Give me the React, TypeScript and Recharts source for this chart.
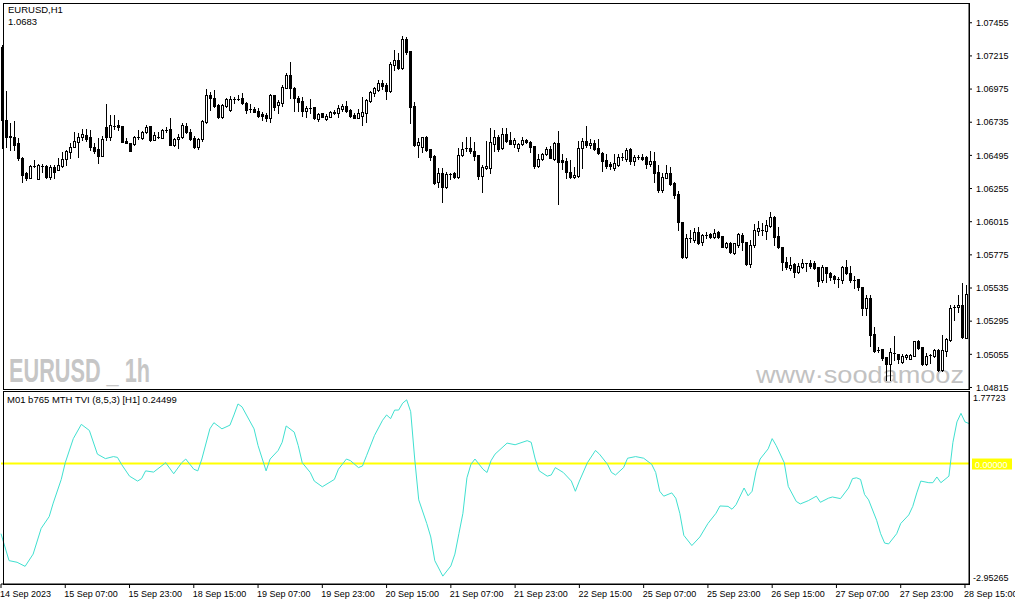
import { ComposedChart, Bar, Line, XAxis, YAxis } from 'recharts';

// hourly EURUSD candles, 14 Sep 15:00 .. 28 Sep 16:00: [open, high, low, close]
const CANDLES: [number, number, number, number][] = [
  [1.0728, 1.07294, 1.06549, 1.06751], [1.06751, 1.06961, 1.06556, 1.06628], [1.06628, 1.0673, 1.06534, 1.06635], [1.06628, 1.06744, 1.06534, 1.0657],
  [1.06585, 1.06621, 1.06462, 1.06476], [1.06476, 1.06483, 1.06302, 1.06353], [1.06368, 1.06375, 1.06317, 1.06331], [1.06331, 1.06425, 1.06331, 1.06418],
  [1.06418, 1.06462, 1.06411, 1.06418], [1.06324, 1.06433, 1.06324, 1.06425], [1.06418, 1.06433, 1.06375, 1.06418], [1.06418, 1.06425, 1.06331, 1.06339],
  [1.06339, 1.06425, 1.06324, 1.06411], [1.06411, 1.06425, 1.06331, 1.06375], [1.06389, 1.06476, 1.06389, 1.06425], [1.06418, 1.0652, 1.06411, 1.06469],
  [1.06469, 1.06534, 1.06425, 1.06527], [1.0652, 1.06585, 1.06476, 1.06556], [1.06556, 1.06664, 1.06556, 1.06599], [1.06592, 1.06657, 1.06483, 1.06628],
  [1.06628, 1.06686, 1.06606, 1.0665], [1.06643, 1.06686, 1.06599, 1.06614], [1.06628, 1.06679, 1.06534, 1.06556], [1.06556, 1.06585, 1.06512, 1.06527],
  [1.06541, 1.06621, 1.0644, 1.06491], [1.06491, 1.06635, 1.06491, 1.06614], [1.06701, 1.06867, 1.06606, 1.06628], [1.06628, 1.06787, 1.06606, 1.06715],
  [1.06708, 1.06787, 1.06686, 1.06708], [1.06715, 1.06751, 1.06679, 1.06701], [1.06708, 1.06708, 1.06592, 1.06592], [1.06599, 1.06621, 1.06585, 1.06585],
  [1.06585, 1.06585, 1.06527, 1.06527], [1.06577, 1.06635, 1.0657, 1.06628], [1.06628, 1.06679, 1.06614, 1.06628], [1.06621, 1.06672, 1.06614, 1.06664],
  [1.06664, 1.06715, 1.06657, 1.06701], [1.06708, 1.06708, 1.06599, 1.06606], [1.06606, 1.06664, 1.06606, 1.06643], [1.06628, 1.06664, 1.06621, 1.06628],
  [1.06621, 1.06686, 1.06621, 1.06679], [1.06679, 1.06701, 1.06664, 1.06679], [1.06686, 1.06766, 1.0657, 1.0657], [1.0657, 1.06621, 1.06563, 1.06614],
  [1.06614, 1.0665, 1.06549, 1.06628], [1.06628, 1.0673, 1.06621, 1.06715], [1.06708, 1.0673, 1.06657, 1.06664], [1.06664, 1.06686, 1.06606, 1.06614],
  [1.06621, 1.06635, 1.06549, 1.06556], [1.06556, 1.06621, 1.06541, 1.06614], [1.06614, 1.06751, 1.06599, 1.06744], [1.06737, 1.06976, 1.0673, 1.06932],
  [1.06932, 1.06954, 1.06824, 1.0691], [1.0691, 1.06968, 1.06845, 1.06853], [1.0686, 1.06867, 1.06766, 1.06773], [1.06773, 1.06867, 1.06766, 1.0686],
  [1.06853, 1.0691, 1.06845, 1.06903], [1.06824, 1.06925, 1.06816, 1.06903], [1.06903, 1.06918, 1.06874, 1.06903], [1.06903, 1.06932, 1.06896, 1.06903],
  [1.0691, 1.06947, 1.06867, 1.06874], [1.06874, 1.06882, 1.06802, 1.06824], [1.06831, 1.06867, 1.06809, 1.06831], [1.06831, 1.06845, 1.06809, 1.06809],
  [1.06816, 1.06838, 1.06773, 1.0678], [1.06795, 1.06809, 1.06751, 1.0678], [1.06787, 1.06802, 1.06744, 1.06766], [1.06766, 1.06939, 1.06737, 1.06932],
  [1.06932, 1.06932, 1.06824, 1.06845], [1.0686, 1.06896, 1.06802, 1.06882], [1.06874, 1.07005, 1.06853, 1.0699], [1.06983, 1.07091, 1.06983, 1.07077],
  [1.07077, 1.07171, 1.0691, 1.06983], [1.06983, 1.0699, 1.06816, 1.0691], [1.0691, 1.06925, 1.06816, 1.06882], [1.06889, 1.06918, 1.0678, 1.06816],
  [1.06816, 1.06853, 1.06773, 1.06838], [1.06838, 1.06903, 1.06802, 1.06838], [1.06845, 1.06845, 1.06758, 1.06766], [1.06758, 1.06802, 1.06744, 1.06795],
  [1.06802, 1.06802, 1.06773, 1.06773], [1.06758, 1.06795, 1.06751, 1.0678], [1.06773, 1.06816, 1.06773, 1.06809], [1.06802, 1.06824, 1.06795, 1.06809],
  [1.06802, 1.0686, 1.06773, 1.06838], [1.06831, 1.06867, 1.06816, 1.06853], [1.06853, 1.06889, 1.06809, 1.06816], [1.06824, 1.06831, 1.06773, 1.0678],
  [1.06787, 1.06802, 1.06766, 1.06766], [1.06766, 1.06831, 1.06766, 1.06802], [1.0678, 1.06918, 1.06715, 1.06809], [1.06802, 1.06903, 1.06737, 1.06896],
  [1.06889, 1.06961, 1.06882, 1.06954], [1.06947, 1.0699, 1.06925, 1.06983], [1.06968, 1.07041, 1.06961, 1.07019], [1.07019, 1.07041, 1.06976, 1.06997],
  [1.07005, 1.07019, 1.06903, 1.06961], [1.06961, 1.07171, 1.06954, 1.07157], [1.07149, 1.07258, 1.07113, 1.07186], [1.07186, 1.07236, 1.0712, 1.07128],
  [1.07128, 1.07359, 1.0712, 1.07338], [1.07338, 1.07352, 1.07229, 1.07243], [1.07251, 1.07251, 1.0673, 1.06845], [1.06853, 1.06882, 1.06563, 1.0657],
  [1.0657, 1.06621, 1.06483, 1.06592], [1.06556, 1.06628, 1.0652, 1.06628], [1.06628, 1.06635, 1.06527, 1.06534], [1.06541, 1.06541, 1.06462, 1.06483],
  [1.06491, 1.06498, 1.06288, 1.06295], [1.06302, 1.06404, 1.06266, 1.06368], [1.06368, 1.06404, 1.06158, 1.06266], [1.06266, 1.06375, 1.06259, 1.0636],
  [1.0636, 1.06368, 1.06324, 1.0636], [1.06368, 1.06375, 1.06331, 1.06339], [1.06339, 1.06549, 1.06331, 1.06498], [1.06498, 1.06592, 1.06491, 1.06541],
  [1.06549, 1.06628, 1.06527, 1.06549], [1.06549, 1.06628, 1.06512, 1.06527], [1.06527, 1.06592, 1.06462, 1.06491], [1.06498, 1.06498, 1.06324, 1.06346],
  [1.06346, 1.06425, 1.0623, 1.06411], [1.06404, 1.06599, 1.06396, 1.06418], [1.06404, 1.06693, 1.06368, 1.06592], [1.06577, 1.06679, 1.06527, 1.06628],
  [1.06628, 1.06643, 1.06527, 1.06541], [1.06549, 1.06693, 1.06541, 1.0665], [1.0665, 1.06693, 1.06592, 1.06599], [1.06606, 1.06664, 1.06577, 1.06577],
  [1.06577, 1.06621, 1.06556, 1.06606], [1.06549, 1.06585, 1.06527, 1.06577], [1.06577, 1.06628, 1.0657, 1.06606], [1.06606, 1.06614, 1.06585, 1.06592],
  [1.06592, 1.06599, 1.0652, 1.06556], [1.06563, 1.06563, 1.06404, 1.06418], [1.06418, 1.06505, 1.06411, 1.06469], [1.06469, 1.06512, 1.06462, 1.06505],
  [1.06505, 1.06556, 1.06498, 1.06541], [1.06541, 1.06563, 1.06476, 1.06476], [1.06469, 1.06592, 1.06462, 1.06585], [1.06585, 1.06672, 1.06143, 1.06447],
  [1.06462, 1.06505, 1.06396, 1.06447], [1.06454, 1.06476, 1.06331, 1.06375], [1.06375, 1.06462, 1.06331, 1.06339], [1.06339, 1.06411, 1.06331, 1.06353],
  [1.06346, 1.06599, 1.06339, 1.06549], [1.06549, 1.06621, 1.06404, 1.06599], [1.06599, 1.06708, 1.06556, 1.0657], [1.0657, 1.06614, 1.06549, 1.06585],
  [1.06585, 1.06606, 1.06534, 1.06541], [1.06549, 1.06614, 1.06505, 1.06512], [1.06512, 1.0652, 1.06382, 1.06454], [1.06462, 1.06505, 1.06404, 1.06418],
  [1.06433, 1.06447, 1.06396, 1.06418], [1.06404, 1.06505, 1.06389, 1.0644], [1.06425, 1.06505, 1.06418, 1.06483], [1.06483, 1.06512, 1.06462, 1.06483],
  [1.06469, 1.06549, 1.06454, 1.06534], [1.06541, 1.06549, 1.06433, 1.06454], [1.06454, 1.06498, 1.06425, 1.06483], [1.06483, 1.06498, 1.06469, 1.06483],
  [1.06483, 1.06505, 1.06462, 1.06469], [1.06483, 1.06491, 1.06404, 1.06433], [1.06433, 1.06527, 1.06418, 1.06454], [1.06454, 1.0652, 1.06302, 1.06368],
  [1.06375, 1.06425, 1.0623, 1.06244], [1.06244, 1.06368, 1.0623, 1.06339], [1.06331, 1.06425, 1.06331, 1.06368], [1.06368, 1.06411, 1.06281, 1.06288],
  [1.06295, 1.06302, 1.06186, 1.06208], [1.06215, 1.06237, 1.05955, 1.06013], [1.06013, 1.06013, 1.05752, 1.05759], [1.05759, 1.05926, 1.05752, 1.05897],
  [1.05897, 1.05955, 1.05868, 1.05897], [1.05882, 1.05969, 1.05868, 1.0594], [1.0594, 1.05977, 1.05853, 1.05861], [1.05868, 1.05926, 1.05846, 1.05919],
  [1.05919, 1.0594, 1.05897, 1.05919], [1.05926, 1.05933, 1.05897, 1.05904], [1.05904, 1.05962, 1.05897, 1.05933], [1.0594, 1.05948, 1.05897, 1.05904],
  [1.05911, 1.05911, 1.05832, 1.05832], [1.05832, 1.05868, 1.05824, 1.05861], [1.05861, 1.05868, 1.05788, 1.05796], [1.05788, 1.05861, 1.05781, 1.05861],
  [1.05846, 1.05933, 1.05832, 1.05926], [1.05919, 1.05933, 1.0581, 1.05868], [1.05868, 1.05868, 1.05701, 1.05709], [1.05709, 1.05882, 1.05687, 1.05846],
  [1.05846, 1.05998, 1.05832, 1.05955], [1.05948, 1.0602, 1.05919, 1.05969], [1.05955, 1.06005, 1.05919, 1.05955], [1.05948, 1.06027, 1.0589, 1.05991],
  [1.05984, 1.06085, 1.05977, 1.06049], [1.06049, 1.06056, 1.05846, 1.05904], [1.05911, 1.05977, 1.05824, 1.05832], [1.05832, 1.05832, 1.05665, 1.05723],
  [1.05723, 1.05759, 1.05672, 1.05687], [1.0568, 1.05759, 1.05665, 1.05701], [1.05709, 1.05716, 1.05615, 1.05651], [1.05651, 1.05716, 1.05643, 1.05694],
  [1.05687, 1.05745, 1.0568, 1.05716], [1.05716, 1.05716, 1.05658, 1.05716], [1.05716, 1.05738, 1.0568, 1.05694], [1.05716, 1.0573, 1.05672, 1.0568],
  [1.05687, 1.05687, 1.05549, 1.05586], [1.05593, 1.05701, 1.05578, 1.05687], [1.05687, 1.05687, 1.05578, 1.05643], [1.05643, 1.05651, 1.05593, 1.05615],
  [1.05622, 1.05629, 1.05571, 1.056], [1.056, 1.05615, 1.05542, 1.056], [1.05593, 1.05694, 1.05571, 1.05687], [1.05687, 1.05738, 1.05636, 1.05643],
  [1.05643, 1.05694, 1.05578, 1.05593], [1.05593, 1.05622, 1.05535, 1.05593], [1.056, 1.056, 1.0552, 1.05542], [1.05542, 1.05542, 1.05339, 1.0539],
  [1.0539, 1.05484, 1.05339, 1.05462], [1.05462, 1.05484, 1.05115, 1.05195], [1.05202, 1.05253, 1.05072, 1.05079], [1.05086, 1.05108, 1.05072, 1.05086],
  [1.05093, 1.05093, 1.05014, 1.05028], [1.05035, 1.05035, 1.04869, 1.04985], [1.04985, 1.051, 1.04869, 1.05072], [1.05064, 1.05187, 1.05014, 1.05064],
  [1.05057, 1.05057, 1.04992, 1.05021], [1.04999, 1.05057, 1.04992, 1.05043], [1.05035, 1.05057, 1.05021, 1.0505], [1.05021, 1.05057, 1.05021, 1.0505],
  [1.05043, 1.05151, 1.05043, 1.05151], [1.05151, 1.05158, 1.05093, 1.051], [1.05108, 1.05108, 1.04977, 1.04985], [1.04985, 1.05064, 1.04977, 1.05043],
  [1.0505, 1.05057, 1.04992, 1.0505], [1.05043, 1.05093, 1.05035, 1.05086], [1.05086, 1.05093, 1.04934, 1.04941], [1.04941, 1.05195, 1.04934, 1.05086],
  [1.05079, 1.05173, 1.05043, 1.05166], [1.05158, 1.05412, 1.05151, 1.0539], [1.05397, 1.05412, 1.05303, 1.05397], [1.05397, 1.05484, 1.05361, 1.05412],
  [1.05412, 1.05571, 1.05173, 1.0518], [1.05173, 1.05557, 1.05173, 1.05491],
];

// TVI indicator readings: [bar index, value]
const TVI: [number, number][] = [
  [0, -1.72], [2, -2.38], [4, -2.42], [6, -2.52], [8, -2.22], [10, -1.59], [12, -1.3], [13, -0.97], [15, -0.39], [16, 0.02],
  [18, 0.61], [20, 0.96], [22, 0.81], [24, 0.23], [26, 0.12], [28, 0.17], [29, 0.15], [30, -0.02], [32, -0.31], [34, -0.43],
  [35, -0.37], [36, -0.18], [38, -0.21], [41, 0.02], [43, -0.25], [45, 0.02], [46, 0.11], [48, -0.14], [49, -0.18], [50, 0.11],
  [52, 0.85], [53, 1.0], [55, 0.85], [57, 0.94], [58, 1.19], [59, 1.46], [60, 1.39], [63, 0.85], [64, 0.44], [66, -0.18],
  [67, 0.11], [69, 0.32], [70, 0.52], [71, 0.92], [73, 0.77], [74, 0.44], [75, 0.02], [77, -0.22], [78, -0.43], [80, -0.57],
  [83, -0.39], [84, -0.14], [86, 0.11], [87, 0.07], [89, -0.1], [90, -0.06], [91, 0.19], [93, 0.69], [95, 1.06], [96, 1.19],
  [97, 1.1], [98, 1.31], [99, 1.31], [100, 1.48], [101, 1.56], [102, 1.27], [103, 0.11], [104, -0.89], [106, -1.47], [107, -1.8],
  [108, -2.38], [110, -2.76], [112, -2.51], [113, -2.22], [114, -1.72], [115, -1.22], [116, -0.35], [117, -0.02], [118, 0.11], [120, -0.14],
  [121, -0.22], [122, 0.07], [123, 0.23], [124, 0.32], [126, 0.5], [128, 0.46], [131, 0.56], [132, 0.52], [133, 0.11], [134, -0.18],
  [136, -0.31], [137, -0.28], [138, -0.1], [140, -0.22], [142, -0.43], [143, -0.68], [144, -0.43], [146, 0.02], [148, 0.32], [149, 0.23],
  [151, -0.02], [152, -0.22], [153, -0.28], [155, -0.1], [156, 0.13], [158, 0.17], [160, 0.13], [162, -0.02], [163, -0.22], [164, -0.68],
  [165, -0.8], [167, -0.72], [168, -0.85], [169, -1.22], [170, -1.76], [172, -2.01], [174, -1.8], [176, -1.47], [178, -1.22], [179, -1.04],
  [181, -1.05], [182, -1.12], [183, -1.01], [185, -0.6], [186, -0.79], [187, -0.68], [188, -0.18], [189, 0.11], [191, 0.36], [192, 0.61],
  [193, 0.44], [195, 0.02], [196, -0.56], [198, -0.93], [199, -0.99], [201, -0.91], [203, -0.8], [204, -0.95], [206, -0.85], [207, -0.82],
  [209, -0.86], [211, -0.6], [212, -0.37], [213, -0.35], [214, -0.39], [215, -0.76], [216, -0.89], [218, -1.39], [219, -1.72], [220, -1.95],
  [221, -1.97], [223, -1.72], [224, -1.47], [226, -1.26], [227, -1.05], [228, -0.72], [229, -0.43], [231, -0.47], [232, -0.47], [233, -0.33],
  [234, -0.47], [236, -0.31], [237, 0.52], [238, 1.02], [239, 1.23], [240, 1.02], [241, 0.98],
];

const TIME_LABELS = [
  '14 Sep 2023', '15 Sep 07:00', '15 Sep 23:00', '18 Sep 15:00', '19 Sep 07:00', '19 Sep 23:00',
  '20 Sep 15:00', '21 Sep 07:00', '21 Sep 23:00', '22 Sep 15:00', '25 Sep 07:00', '25 Sep 23:00',
  '26 Sep 15:00', '27 Sep 07:00', '27 Sep 23:00', '28 Sep 15:00',
];
const PRICE_TICKS = [1.07455, 1.07215, 1.06975, 1.06735, 1.06495, 1.06255, 1.06015, 1.05775, 1.05535, 1.05295, 1.05055, 1.04815];
const TVI_TICKS = [1.77723, 0, -2.95265];

const FONT = "'Liberation Sans', Arial, sans-serif";

const tviByBar = new Map(TVI);
const priceData = CANDLES.map((ohlc, i) => ({ i, range: [ohlc[2], ohlc[1]], ohlc }));
const tviData = CANDLES.map((_, i) => ({ i, tvi: tviByBar.has(i) ? tviByBar.get(i) : null }));

function Candle(props: any) {
  const { x, y, width, height, payload } = props;
  const [o, h, l, c] = payload.ohlc;
  const top = Math.min(y, y + height);
  const bot = Math.max(y, y + height);
  const span = h - l || 1;
  const py = (v: number) => Math.round(top + ((h - v) / span) * (bot - top));
  const cx = Math.round(x + width / 2) - 1;
  const t = Math.min(py(o), py(c));
  const b = Math.max(py(o), py(c));
  let body;
  if (b - t < 1) body = <rect x={cx - 1} y={t} width={3} height={1} fill="#000" />;
  else if (c >= o) body = <rect x={cx - 0.5} y={t + 0.5} width={2} height={b - t} fill="#fff" stroke="#000" />;
  else body = <rect x={cx - 1} y={t} width={3} height={b - t + 1} fill="#000" />;
  return (
    <g>
      <line x1={cx + 0.5} x2={cx + 0.5} y1={Math.round(top)} y2={Math.round(bot) + 1} stroke="#000" />
      {body}
    </g>
  );
}

function TimeTick(props: any) {
  const { x, y, payload } = props;
  return (
    <text x={x - 1} y={y + 7} textAnchor="start" fontSize={9} fontFamily={FONT} fill="#000">
      {TIME_LABELS[payload.value / 16]}
    </text>
  );
}

function TviTick(props: any) {
  const { x, y, payload } = props;
  const v = payload.value;
  if (v === 0) {
    return (
      <g>
        <rect x={x + 3} y={y - 5} width={40} height={11} fill="#ffff00" />
        <text x={x + 6} y={y + 4} fontSize={9} fontFamily={FONT} fill="#fff">0.00000</text>
      </g>
    );
  }
  return (
    <text x={x + 4} y={v > 0 ? y + 10 : y - 3} fontSize={9} fontFamily={FONT} fill="#000">
      {v.toFixed(5)}
    </text>
  );
}

export default function App() {
  return (
    <div style={{ position: 'relative', width: 1015, height: 605, background: '#fff', fontFamily: FONT, overflow: 'hidden' }}>
      <style>{'body{margin:0}'}</style>

      <svg width={1015} height={605} style={{ position: 'absolute', left: 0, top: 0 }}>
        <text x={9} y={382} fontSize={33} fontWeight="bold" fill="#c6c6c6" textLength={141}
          lengthAdjust="spacingAndGlyphs" fontFamily="'Liberation Sans Narrow', 'Liberation Sans', sans-serif">EURUSD _ 1h</text>
        <text x={756} y={383} fontSize={24} fill="#c2c2c2" textLength={208}
          lengthAdjust="spacingAndGlyphs" fontFamily={FONT}>www·soodamooz</text>
      </svg>

      <div style={{ position: 'absolute', left: 0, top: 0 }}>
        <ComposedChart width={1015} height={400} data={priceData} margin={{ top: 3, right: 0, bottom: 11, left: 1 }}>
          <XAxis dataKey="i" hide />
          <YAxis orientation="right" width={46} domain={[1.04804, 1.07598]} allowDataOverflow ticks={PRICE_TICKS}
            interval={0} tickFormatter={(v: number) => v.toFixed(5)} tickSize={3} tickMargin={4}
            tick={{ fontSize: 9, fill: '#000', fontFamily: FONT }} axisLine={{ stroke: '#000' }} tickLine={{ stroke: '#000' }} />
          <Bar dataKey="range" shape={Candle} isAnimationActive={false} />
        </ComposedChart>
      </div>

      <div style={{ position: 'absolute', left: 0, top: 389 }}>
        <ComposedChart width={1015} height={216} data={tviData} margin={{ top: 2, right: 0, bottom: 0, left: 1 }}>
          <XAxis dataKey="i" interval={15} height={21} tickSize={4} tick={<TimeTick />}
            axisLine={{ stroke: '#000' }} tickLine={{ stroke: '#000' }} />
          <YAxis orientation="right" width={46} domain={[-2.95265, 1.77723]} allowDataOverflow ticks={TVI_TICKS}
            interval={0} tickSize={0} tickMargin={0} tickLine={false} tick={<TviTick />} axisLine={{ stroke: '#000' }} />
          <Line dataKey={() => 0} stroke="#ffff00" strokeWidth={2} dot={false} isAnimationActive={false} />
          <Line dataKey="tvi" stroke="#40e0d0" strokeWidth={1} dot={false} connectNulls type="linear" isAnimationActive={false} />
        </ComposedChart>
      </div>

      <div style={{ position: 'absolute', left: 3, top: 3, width: 967, height: 387, boxSizing: 'border-box', border: '1px solid #000', pointerEvents: 'none' }} />
      <div style={{ position: 'absolute', left: 3, top: 391, width: 967, height: 194, boxSizing: 'border-box', border: '1px solid #000', pointerEvents: 'none' }} />

      <div style={{ position: 'absolute', left: 8, top: 4, fontSize: 9.5, lineHeight: '12px', color: '#000' }}>EURUSD,H1</div>
      <div style={{ position: 'absolute', left: 8, top: 16, fontSize: 9.5, lineHeight: '12px', color: '#000' }}>1.0683</div>
      <div style={{ position: 'absolute', left: 7, top: 394, fontSize: 9.5, lineHeight: '12px', color: '#000' }}>
        M01 b765 MTH TVI (8,5,3) [H1] 0.24499
      </div>
    </div>
  );
}
